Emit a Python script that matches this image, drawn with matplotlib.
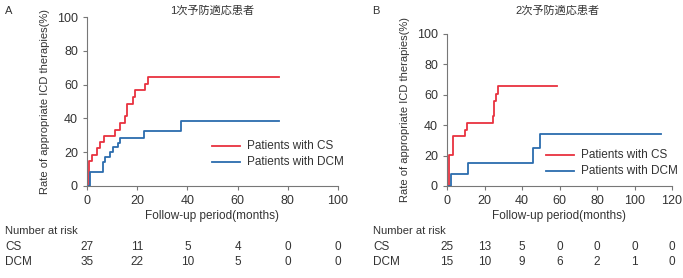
import matplotlib
matplotlib.use("Agg")
import matplotlib.pyplot as plt
from matplotlib.transforms import blended_transform_factory

plt.rcParams['font.family'] = ['Liberation Sans', 'Noto Sans CJK JP', 'DejaVu Sans']

# panel A (1次予防)
a_cs_t = [0, 0.9, 2.0, 3.9, 5.2, 6.9, 11.2, 13.1, 15.1, 15.9, 18.4, 19.1, 23.2, 24.2, 76.6]
a_cs_y = [0, 14.8, 18.1, 22.3, 25.8, 29.4, 33.3, 37.1, 41.2, 48.7, 52.8, 56.8, 60.5, 64.3, 64.3]
a_dcm_t = [0, 1.2, 6.5, 7.3, 9.2, 10.5, 12.2, 13.1, 22.6, 37.5, 76.6]
a_dcm_y = [0, 8.3, 14.0, 17.0, 19.9, 23.1, 25.6, 28.4, 32.5, 38.3, 38.3]
a_risk_t = [0, 20, 40, 60, 80, 100]
a_risk_cs = [27, 11, 5, 4, 0, 0]
a_risk_dcm = [35, 22, 10, 5, 0, 0]

# panel B (2次予防)
b_cs_t = [0, 1.1, 3.2, 9.4, 10.5, 24.4, 25.1, 26.1, 27.4, 58.5]
b_cs_y = [0, 20.6, 32.7, 37.1, 41.2, 46.3, 56.1, 60.7, 66.0, 66.0]
b_dcm_t = [0, 2.3, 11.2, 45.7, 49.8, 114]
b_dcm_y = [0, 7.9, 15.4, 25.0, 34.2, 34.2]
b_risk_t = [0, 20, 40, 60, 80, 100, 120]
b_risk_cs = [25, 13, 5, 0, 0, 0, 0]
b_risk_dcm = [15, 10, 9, 6, 2, 1, 0]

RED = '#e8323f'
BLUE = '#2b6cae'
TXT = '#333333'
AX = '#777777'

W, H = 683, 278
fig = plt.figure(figsize=(W / 100, H / 100), dpi=100)


def fx(px):
    return px / W


def fy(py):
    return 1 - py / H


def panel(rect, cs_t, cs_y, dcm_t, dcm_y, xmax, risk_t, risk_cs, risk_dcm,
          letter, letter_x, title, title_x, table_x, leg_x0, leg_y0):
    ax = fig.add_axes(rect)
    ax.step(cs_t, cs_y, where='post', color=RED, lw=1.3)
    ax.step(dcm_t, dcm_y, where='post', color=BLUE, lw=1.3)
    ax.set_xlim(0, xmax)
    ax.set_ylim(0, 100)
    ax.set_xticks(risk_t)
    ax.set_yticks([0, 20, 40, 60, 80, 100])
    for s in ['top', 'right']:
        ax.spines[s].set_visible(False)
    for s in ['left', 'bottom']:
        ax.spines[s].set_color(AX)
        ax.spines[s].set_linewidth(0.8)
    ax.tick_params(colors=AX, labelcolor=TXT, labelsize=9, length=3, width=0.8)
    ax.set_xlabel('Follow-up period(months)', fontsize=8.5, color=TXT, labelpad=2)
    ax.set_ylabel('Rate of appropriate ICD therapies(%)', fontsize=8, color=TXT, labelpad=5)

    # legend drawn by hand in figure coords
    for i, (lab, c) in enumerate([('Patients with CS', RED), ('Patients with DCM', BLUE)]):
        yy = fy(leg_y0 + i * 16)
        fig.add_artist(plt.Line2D([fx(leg_x0), fx(leg_x0 + 28)], [yy, yy], color=c, lw=1.3))
        fig.text(fx(leg_x0 + 35), yy, lab, fontsize=8.5, color=TXT, va='center')

    fig.text(fx(letter_x), fy(11), letter, fontsize=8, color=TXT, va='center')
    fig.text(fx(title_x), fy(11), title, fontsize=8, color=TXT, va='center', ha='center')

    tr = blended_transform_factory(ax.transData, fig.transFigure)
    fig.text(fx(table_x), fy(231), 'Number at risk', fontsize=8, color=TXT, va='center')
    fig.text(fx(table_x), fy(247), 'CS', fontsize=8.5, color=TXT, va='center')
    fig.text(fx(table_x), fy(262), 'DCM', fontsize=8.5, color=TXT, va='center')
    for t, c, d in zip(risk_t, risk_cs, risk_dcm):
        ax.text(t, fy(247), str(c), transform=tr, fontsize=8.5, color=TXT, ha='center', va='center')
        ax.text(t, fy(262), str(d), transform=tr, fontsize=8.5, color=TXT, ha='center', va='center')
    return ax


panel([fx(87), fy(186), fx(338) - fx(87), fy(17) - fy(186)],
      a_cs_t, a_cs_y, a_dcm_t, a_dcm_y, 100, a_risk_t, a_risk_cs, a_risk_dcm,
      'A', 5, '1次予防適応患者', 212, 5, 212, 146)
panel([fx(447), fy(186), fx(672) - fx(447), fy(34) - fy(186)],
      b_cs_t, b_cs_y, b_dcm_t, b_dcm_y, 120, b_risk_t, b_risk_cs, b_risk_dcm,
      'B', 372, '2次予防適応患者', 557, 373, 546, 155)

fig.savefig('out.png', dpi=100)
